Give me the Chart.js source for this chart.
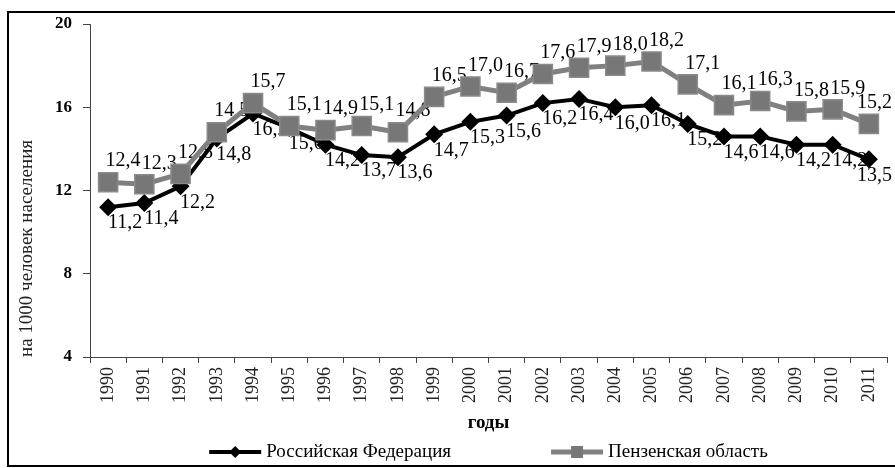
<!DOCTYPE html>
<html><head><meta charset="utf-8">
<script src="https://cdn.jsdelivr.net/npm/chart.js@4.4.1/dist/chart.umd.min.js"></script>
<style>
html,body{margin:0;padding:0;background:#fff;overflow:hidden;}
#wrap{position:relative;width:895px;height:468px;overflow:hidden;background:#fff;}
#c{position:absolute;left:0;top:0;}
#frame{position:absolute;left:7px;top:11px;width:1000px;height:456px;border:2px solid #000;border-right:none;box-sizing:border-box;pointer-events:none;}
</style></head>
<body><div id="wrap"><canvas id="c" width="902" height="468"></canvas><div id="frame"></div></div>
<script>
const years = ['1990','1991','1992','1993','1994','1995','1996','1997','1998','1999','2000','2001','2002','2003','2004','2005','2006','2007','2008','2009','2010','2011'];
const russia = [11.2,11.4,12.2,14.5,15.7,15.0,14.2,13.7,13.6,14.7,15.3,15.6,16.2,16.4,16.0,16.1,15.2,14.6,14.6,14.2,14.2,13.5];
const penza = [12.4,12.3,12.8,14.8,16.2,15.1,14.9,15.1,14.8,16.5,17.0,16.7,17.6,17.9,18.0,18.2,17.1,16.1,16.3,15.8,15.9,15.2];
const russiaLabels = ['11,2','11,4','12,2','14,8','16,2','15,0','14,2','13,7','13,6','14,7','15,3','15,6','16,2','16,4','16,0','16,1','15,2','14,6','14,6','14,2','14,2','13,5'];
const penzaLabels = ['12,4','12,3','12,8','14,5','15,7','15,1','14,9','15,1','14,8','16,5','17,0','16,7','17,6','17,9','18,0','18,2','17,1','16,1','16,3','15,8','15,9','15,2'];
const yMin = 4, yMax = 20, yStep = 4;
const seriesNames = ['Российская Федерация','Пензенская область'];
const yTitle = 'на 1000 человек населения';
const xTitle = 'годы';

const SERIF = '"Liberation Serif", "DejaVu Serif", serif';

const pointLabels = {
  id: 'pointLabels',
  beforeDatasetsDraw(chart) {
    const ctx = chart.ctx;
    ctx.save();
    ctx.font = '20px ' + SERIF;
    ctx.fillStyle = '#000';
    ctx.textAlign = 'center';
    ctx.textBaseline = 'middle';
    chart.data.datasets.forEach((ds, di) => {
      const meta = chart.getDatasetMeta(di);
      meta.data.forEach((pt, i) => {
        const t = ds.valueLabels[i];
        const w = ctx.measureText(t).width;
        let x = pt.x + ds.labelDx, y = pt.y + ds.labelDy;
        if (x + w / 2 > 892) x = 892 - w / 2;
        ctx.fillText(t, x, y);
      });
    });
    ctx.restore();
  }
};

const lineLegend = {
  id: 'lineLegend',
  afterDraw(chart) {
    const ctx = chart.ctx;
    const ca = chart.chartArea;
    ctx.save();
    ctx.font = '19px ' + SERIF;
    ctx.textBaseline = 'middle';
    ctx.textAlign = 'left';
    const sym = 52, gapT = 5, gapItem = 100;
    const items = chart.data.datasets.map(ds => ({ds, w: sym + gapT + ctx.measureText(ds.label).width}));
    const total = items.reduce((a, b) => a + b.w, 0) + gapItem * (items.length - 1);
    let x = (ca.left + ca.right) / 2 - total / 2;
    const y = 452;
    items.forEach(({ds, w}) => {
      ctx.strokeStyle = ds.borderColor;
      ctx.lineWidth = ds.borderWidth;
      ctx.beginPath(); ctx.moveTo(x, y); ctx.lineTo(x + sym, y); ctx.stroke();
      const cx = x + sym / 2;
      ctx.fillStyle = ds.pointBackgroundColor;
      ctx.beginPath();
      if (ds.pointStyle === 'rectRot') {
        ctx.moveTo(cx, y - 6); ctx.lineTo(cx + 6, y); ctx.lineTo(cx, y + 6); ctx.lineTo(cx - 6, y); ctx.closePath();
      } else {
        ctx.rect(cx - 6, y - 6, 12, 12);
      }
      ctx.fill();
      ctx.fillStyle = '#000';
      ctx.fillText(ds.label, x + sym + gapT, y);
      x += w + gapItem;
    });
    ctx.restore();
  }
};

new Chart(document.getElementById('c'), {
  type: 'line',
  data: {
    labels: years,
    datasets: [
      {label: seriesNames[0], data: russia, valueLabels: russiaLabels, labelDx: 17, labelDy: 16,
       borderColor: '#000', backgroundColor: '#000', borderWidth: 4, tension: 0, order: 1,
       pointStyle: 'rectRot', pointRadius: 9, pointBorderWidth: 0, pointBackgroundColor: '#000', pointBorderColor: '#000'},
      {label: seriesNames[1], data: penza, valueLabels: penzaLabels, labelDx: 15, labelDy: -21,
       borderColor: '#808080', backgroundColor: '#777', borderWidth: 5, tension: 0, order: 0,
       pointStyle: 'rect', pointRadius: 13.5, pointBorderWidth: 1.5, pointBackgroundColor: '#777777', pointBorderColor: '#8a8a8a'}
    ]
  },
  options: {
    responsive: false, animation: false, devicePixelRatio: 1,
    layout: {padding: {left: 0, right: 0, top: 24, bottom: 0}},
    plugins: {legend: {display: false}, tooltip: {enabled: false}},
    scales: {
      x: {
        type: 'category', offset: true,
        grid: {offset: true, drawOnChartArea: false, tickLength: 6, color: '#444'},
        border: {color: '#444', width: 1},
        ticks: {minRotation: 90, maxRotation: 90, autoSkip: false, padding: 4, color: '#222', font: {family: SERIF, size: 18}},
        title: {display: true, text: xTitle, color: '#000', font: {family: SERIF, size: 19, weight: 'bold'}, padding: {top: 0, bottom: 34}},
        afterFit(s) { s.height = 111; }
      },
      y: {
        min: yMin, max: yMax,
        grid: {drawOnChartArea: false, tickLength: 7, color: '#444'},
        border: {color: '#444', width: 1},
        ticks: {stepSize: yStep, padding: 11, color: '#000', font: {family: SERIF, size: 17, weight: 'bold'}},
        title: {display: true, text: yTitle, align: 'start', color: '#222', font: {family: SERIF, size: 19}, padding: {top: 16, bottom: 0}},
        afterFit(s) { s.width = 90; }
      }
    }
  },
  plugins: [pointLabels, lineLegend]
});
</script>
</body></html>
